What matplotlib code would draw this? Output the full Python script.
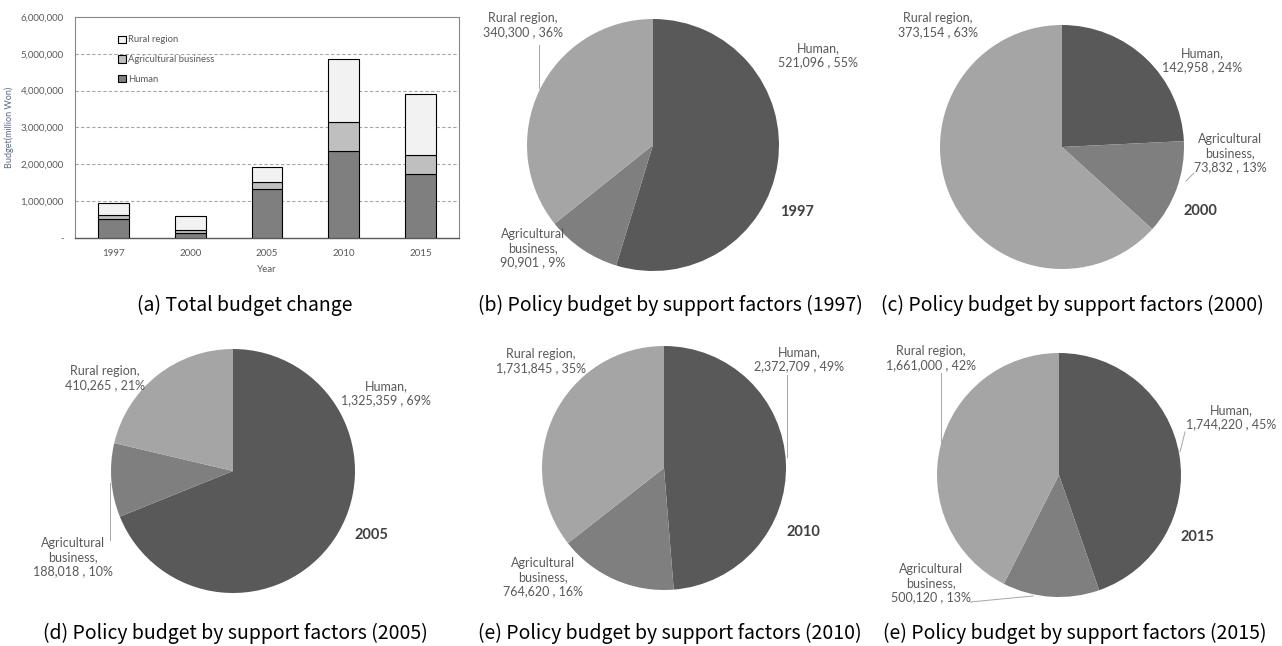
import matplotlib
matplotlib.use('Agg')
import matplotlib.pyplot as plt
from matplotlib.ticker import FuncFormatter

# Data
years = ['1997', '2000', '2005', '2010', '2015']
human = [521096, 142958, 1325359, 2372709, 1744220]
agri = [90901, 73832, 188018, 764620, 500120]
rural = [340300, 373154, 410265, 1731845, 1661000]
pct_human = [55, 24, 69, 49, 45]
pct_agri = [9, 13, 10, 16, 13]
pct_rural = [36, 63, 21, 35, 42]
captions = ['(a) Total budget change',
            '(b) Policy budget by support factors (1997)',
            '(c) Policy budget by support factors (2000)',
            '(d) Policy budget by support factors (2005)',
            '(e) Policy budget by support factors (2010)',
            '(e) Policy budget by support factors (2015)']

W, H = 1282, 646
fig = plt.figure(figsize=(W / 100, H / 100), dpi=100)
fig.patch.set_facecolor('white')

LAB_FONT = 'Lato'
CAP_FONT = ['Noto Sans CJK KR', 'DejaVu Sans']
TXT = '#595959'


def px_axes(x0, y0, x1, y1):
    return fig.add_axes([x0 / W, 1 - y1 / H, (x1 - x0) / W, (y1 - y0) / H])


# ---- (a) stacked bar chart ----
ax = px_axes(75, 17, 459, 238)
x = range(len(years))
bw = 0.4
ax.bar(x, human, bw, color='#7f7f7f', edgecolor='black', linewidth=0.8, label='Human', zorder=3)
ax.bar(x, agri, bw, bottom=human, color='#bfbfbf', edgecolor='black', linewidth=0.8,
       label='Agricultural business', zorder=3)
bott = [h + a for h, a in zip(human, agri)]
ax.bar(x, rural, bw, bottom=bott, color='#f2f2f2', edgecolor='black', linewidth=0.8,
       label='Rural region', zorder=3)
ax.set_xlim(-0.5, len(years) - 0.5)
ax.set_ylim(0, 6000000)
ax.set_yticks(range(0, 6000001, 1000000))
ax.yaxis.set_major_formatter(FuncFormatter(lambda v, p: '-' if v == 0 else f'{int(v):,}'))
ax.set_xticks(list(x))
ax.set_xticklabels(years)
ax.tick_params(length=0, labelsize=7, labelcolor=TXT, pad=8)
for lab in ax.get_xticklabels() + ax.get_yticklabels():
    lab.set_fontfamily(LAB_FONT)
for yv in range(1000000, 6000000, 1000000):
    ax.axhline(yv, color='#a6a6a6', linestyle=(0, (3, 2)), linewidth=0.8, zorder=1)
for s in ['top', 'right', 'left']:
    ax.spines[s].set_color('#868686')
ax.spines['bottom'].set_color('#595959')
ax.spines['bottom'].set_linewidth(1.0)
ax.set_xlabel('Year', fontsize=7, color=TXT, family=LAB_FONT, labelpad=5)
ax.set_ylabel('Budget(million Won)', fontsize=6.5, color='#5a6a8a', family=LAB_FONT, labelpad=5)
h_, l_ = ax.get_legend_handles_labels()
ax.legend(h_[::-1], l_[::-1], loc='upper left', bbox_to_anchor=(0.09, 0.955), frameon=False,
          prop={'family': LAB_FONT, 'size': 6.8}, labelcolor=TXT, handlelength=0.8,
          handleheight=0.8, handletextpad=0.3, labelspacing=1.15)

# ---- pies ----
pie_colors = ['#595959', '#7f7f7f', '#a5a5a5']
# layout: centre x, centre y, radius (pixels)
pie_geom = [(653, 145, 126), (1062, 147, 122), (233, 471, 122), (664, 468, 122), (1059, 475, 122)]
# layout: label positions (pixels) for human, agri, rural, year
lab_pos = [
    [(818, 55), (533, 248), (523, 25), (797, 212)],
    [(1202, 60), (1230, 153), (938, 25), (1200, 211)],
    [(386, 393), (73, 557), (105, 378), (371, 535)],
    [(799, 359), (543, 577), (541, 361), (803, 532)],
    [(1231, 417), (931, 583), (931, 358), (1197, 537)],
]
# layout: leader lines (pixels)
leaders = [
    [((539, 45), (539, 88))],
    [((1194, 173), (1186, 181))],
    [((110, 540), (110, 483))],
    [((787, 375), (787, 457))],
    [((941, 373), (941, 447)), ((1185, 432), (1180, 452)), ((970, 602), (1033, 596))],
]

for i in range(len(years)):
    cx, cy, r = pie_geom[i]
    pax = px_axes(cx - r, cy - r, cx + r, cy + r)
    vals = [human[i], agri[i], rural[i]]
    pax.pie(vals, colors=pie_colors, startangle=90, counterclock=False, radius=1,
            wedgeprops={'linewidth': 0})
    pax.set_xlim(-1, 1)
    pax.set_ylim(-1, 1)
    pax.set_aspect('equal')
    pax.axis('off')

    def to_d(p):
        return ((p[0] - cx) / r, (cy - p[1]) / r)

    texts = [f'Human,\n{human[i]:,} , {pct_human[i]}%',
             f'Agricultural\nbusiness,\n{agri[i]:,} , {pct_agri[i]}%',
             f'Rural region,\n{rural[i]:,} , {pct_rural[i]}%']
    for t, p in zip(texts, lab_pos[i][:3]):
        dx, dy = to_d(p)
        pax.text(dx, dy, t, ha='center', va='center', fontsize=9, color=TXT,
                 family=LAB_FONT, linespacing=1.2, clip_on=False)
    dx, dy = to_d(lab_pos[i][3])
    pax.text(dx, dy, years[i], ha='center', va='center', fontsize=10.5, fontweight='bold',
             color='#404040', family=LAB_FONT, clip_on=False)
    for a, b in leaders[i]:
        pa, pb = to_d(a), to_d(b)
        pax.plot([pa[0], pb[0]], [pa[1], pb[1]], color='#a6a6a6', linewidth=0.7, clip_on=False)

# ---- captions ----
cap_pos = [(245, 305), (670, 305), (1072, 305), (235, 633), (670, 633), (1075, 633)]
for c, (px, py) in zip(captions, cap_pos):
    fig.text(px / W, 1 - py / H, c, ha='center', va='center', fontsize=14,
             family=CAP_FONT, color='black')

fig.savefig('out.png', dpi=100)
